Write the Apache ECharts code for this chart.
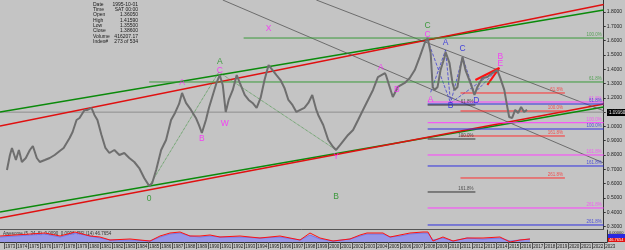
<!DOCTYPE html>
<html>
<head>
<meta charset="utf-8">
<script src="https://cdn.jsdelivr.net/npm/echarts@6/dist/echarts.min.js"></script>
<style>
html, body { margin: 0; padding: 0; background: #c4c4c4; }
#chart { width: 625px; height: 250px; }
</style>
</head>
<body>
<div id="chart"></div>
<script>
// monthly EURUSD-ish closes
const years = [1973.25, 1973.5, 1973.67, 1974.0, 1974.25, 1974.5, 1974.83, 1975.17, 1975.42, 1975.75,
  1976.0, 1976.42, 1976.83, 1977.25, 1977.67, 1978.0, 1978.5, 1978.75, 1979.08, 1979.33,
  1979.75, 1980.0, 1980.33, 1980.58, 1980.83, 1981.17, 1981.5, 1981.83, 1982.25, 1982.67,
  1983.08, 1983.5, 1983.92, 1984.33, 1984.75, 1985.17, 1985.42, 1985.75, 1986.17, 1986.58,
  1987.0, 1987.33, 1987.67, 1987.92, 1988.25, 1988.67, 1989.08, 1989.33, 1989.58, 1989.92,
  1990.17, 1990.5, 1990.83, 1991.08, 1991.33, 1991.58, 1991.83, 1992.17, 1992.5, 1992.83,
  1993.17, 1993.5, 1993.83, 1994.17, 1994.5, 1994.83, 1995.17, 1995.5, 1995.83, 1996.17,
  1996.5, 1996.83, 1997.17, 1997.5, 1997.83, 1998.17, 1998.5, 1998.83, 1999.17, 1999.33,
  1999.75, 2000.17, 2000.58, 2000.83, 2001.17, 2001.5, 2001.83, 2002.25, 2002.67, 2003.08,
  2003.5, 2003.92, 2004.33, 2004.92, 2005.0, 2005.58, 2006.0, 2006.58, 2007.0, 2007.42,
  2007.83, 2008.25, 2008.5, 2008.75, 2008.92, 2009.08, 2009.33, 2009.58, 2009.92, 2010.0,
  2010.33, 2010.58, 2010.75, 2011.0, 2011.25, 2011.42, 2011.67, 2012.08, 2012.42, 2012.67,
  2013.08, 2013.5, 2013.92, 2014.33, 2014.58, 2014.92, 2015.17, 2015.33, 2015.58, 2015.83,
  2016.08, 2016.33, 2016.58, 2016.83];
const closes = [0.695, 0.800, 0.849, 0.765, 0.835, 0.751, 0.779, 0.835, 0.863, 0.779,
  0.751, 0.765, 0.779, 0.800, 0.828, 0.849, 0.919, 0.961, 1.045, 1.059,
  1.115, 1.115, 1.129, 1.080, 1.045, 0.940, 0.849, 0.814, 0.835, 0.800,
  0.814, 0.779, 0.751, 0.709, 0.639, 0.583, 0.604, 0.695, 0.835, 0.905,
  1.045, 1.094, 1.157, 1.234, 1.164, 1.115, 1.059, 1.010, 0.954, 1.045,
  1.129, 1.220, 1.310, 1.359, 1.290, 1.101, 1.185, 1.255, 1.359, 1.290,
  1.220, 1.185, 1.164, 1.129, 1.199, 1.324, 1.429, 1.394, 1.359, 1.324,
  1.269, 1.185, 1.150, 1.101, 1.115, 1.129, 1.164, 1.220, 1.115, 1.080,
  1.010, 0.905, 0.856, 0.835, 0.870, 0.905, 0.940, 0.975, 1.045, 1.115,
  1.185, 1.255, 1.345, 1.373, 1.359, 1.206, 1.276, 1.304, 1.339, 1.394,
  1.485, 1.583, 1.618, 1.513, 1.276, 1.255, 1.276, 1.394, 1.485, 1.520,
  1.443, 1.304, 1.255, 1.276, 1.415, 1.485, 1.394, 1.304, 1.220, 1.276,
  1.339, 1.345, 1.373, 1.394, 1.339, 1.255, 1.136, 1.066, 1.059, 1.115,
  1.094, 1.136, 1.101, 1.115];

// oscillator panel (red line + blue histogram)
const oscYears = [1972.67, 1973.92, 1975.17, 1976.42, 1977.67, 1978.92, 1980.17, 1981.0, 1981.83, 1983.5,
  1985.17, 1986.0, 1986.83, 1987.67, 1988.5, 1989.33, 1990.17, 1991.0, 1992.67, 1994.33,
  1996.0, 1997.67, 1998.5, 1999.33, 2000.42, 2001.83, 2002.67, 2003.25, 2003.75, 2004.58,
  2005.17, 2006.0, 2006.83, 2007.92, 2008.33, 2008.75, 2009.58, 2010.42, 2011.58, 2012.92,
  2014.33, 2015.17, 2016.0, 2016.83];
const oscRed = [6, 7, 8, 9, 6, 10, 6, 5, 2, 3,
  1, 6, 9, 10, 6, 6, 7, 5, 6, 4,
  6, 2, 9, 4, 1, 3, 7, 9, 9, 9,
  5, 7, 9, 10, 10, 1, 5, 1, 4, 4,
  5, 0, 2, 3];
const oscBlue = [5, 6, 7, 8, 5, 9, 6, 4, 2, 2,
  1, 5, 8, 9, 6, 5, 6, 5, 5, 4,
  5, 2, 7, 3, 1, 3, 6, 8, 8, 8,
  5, 6, 8, 9, 9, 2, 4, 1, 4, 3,
  4, 1, 2, 3];

// channels
const upperGreen = [[1972.667, 1.1007], [2023.25, 1.814]];
const upperRed = [[1972.667, 1.0028], [2023.25, 1.8517]];
const lowerGreen = [[1972.667, 0.4014], [2023.25, 1.1356]];
const lowerRed = [[1972.667, 0.3594], [2023.25, 1.1566]];
const darkDiag1 = [[1999.17, 1.8839], [2023.25, 1.109]];
const darkDiag2 = [[1991.33, 1.8839], [2023.25, 0.744]];
const greenDotted = [[1985.17, 0.583], [1991.0, 1.380], [2000.83, 0.835]];
const blueDashed = [[2008.75, 1.2385], [2010.0, 1.5343], [2010.42, 1.1636], [2011.42, 1.485], [2012.42, 1.2335], [2014.5, 1.4084]];
const blueDashed2 = [[2008.5, 1.604], [2010.42, 1.1636], [2014.5, 1.4084]];
const redWedge = [[2012.5, 1.3245], [2014.5, 1.4084], [2013.5, 1.290]];
const priceLine = 1.0996;

// fib levels
const greenLevels = [1.618, 1.3105];
const greenStart = [1993.08, 1985.17];
const greenLabels = ['100.0%', '61.8%'];
const magentaLevels = [1.1706, 1.0258, 0.800, 0.4294];
const blueLevels = [1.1566, 0.9818, 0.7231, 0.3105];
const redLevels = [1.2336, 1.1077, 0.9329, 0.6392];
const darkLevels = [1.1496, 0.9119, 0.5413];
const fibLabels = ['61.8%', '100.0%', '161.8%', '261.8%'];

// wave labels
const magentaMarks = [['A', 1987.92, 1.3035], ['B', 1989.58, 0.912], ['C', 1991.08, 1.3874], ['W', 1991.5, 1.0168],
  ['X', 1995.17, 1.6811], ['Y', 2000.83, 0.786], ['A', 2004.58, 1.4084], ['B', 2005.92, 1.2545],
  ['C', 2008.5, 1.639], ['B', 2014.58, 1.4853], ['E', 2014.58, 1.4364], ['A', 2008.75, 1.1846]];
const greenMarks = [['0', 1985.17, 0.4923], ['A', 1991.08, 1.4503], ['B', 2000.83, 0.506], ['C', 2008.5, 1.702]];
const blueMarks = [['A', 2010.0, 1.583], ['C', 2011.42, 1.541], ['B', 2010.42, 1.1426], ['D', 2012.58, 1.1776]];

const yTicks = [0.3, 0.4, 0.5, 0.6, 0.7, 0.8, 0.9, 1.0, 1.1, 1.2, 1.3, 1.4, 1.5, 1.6, 1.7, 1.8];
const yearTicks = [];
for (let y = 1973; y <= 2023; y++) yearTicks.push(y);

const X0 = 1972.667, X1 = 2023.25;
const series = [];

function seg (points, color, width, type, z) {
  series.push({
    type: 'line', xAxisIndex: 0, yAxisIndex: 0, data: points, symbol: 'none', silent: true,
    lineStyle: { color: color, width: width, type: type || 'solid' }, z: z || 3
  });
}

function levels (vals, start, end, labels, color, z) {
  let labelData = []
  for (let i = 0; i < vals.length; i++) {
    let s = Array.isArray(start) ? start[i] : start
    seg([[s, vals[i]], [end, vals[i]]], color, 1, 'solid', z)
    labelData.push({ value: [end, vals[i]], name: labels[i] })
  }
  series.push({
    type: 'scatter', xAxisIndex: 0, yAxisIndex: 0, data: labelData, symbolSize: 0, silent: true, z: 6,
    label: { show: true, formatter: '{b}', position: 'left', distance: 2, offset: [0, -3],
      color: color, fontSize: 4.5, fontFamily: 'Liberation Sans' }
  })
}

function marks (list, color) {
  series.push({
    type: 'scatter', xAxisIndex: 0, yAxisIndex: 0, symbolSize: 0, silent: true, z: 7,
    data: list.map(m => ({ name: m[0], value: [m[1], m[2]] })),
    label: { show: true, formatter: '{b}', position: 'inside', color: color, fontSize: 8.5, fontFamily: 'Liberation Sans' }
  })
}

// price
series.push({
  type: 'line', xAxisIndex: 0, yAxisIndex: 0, data: years.map((y, i) => [y, closes[i]]),
  symbol: 'none', silent: true, z: 4, lineStyle: { color: '#6e6e6e', width: 2 }
})

seg([[X0, priceLine], [X1, priceLine]], '#8e8e8e', 1)
seg(upperGreen, '#0a8a0a', 1.5)
seg(upperRed, '#e01010', 1.5)
seg(lowerGreen, '#0a8a0a', 1.5)
seg(lowerRed, '#e01010', 1.5)
seg(darkDiag1, '#555555', 0.8)
seg(darkDiag2, '#555555', 0.8)
seg(greenDotted, '#2e8b2e', 0.8, 'dotted')
seg(blueDashed, '#4040d0', 0.8, 'dashed')
seg(blueDashed2, '#4040d0', 0.8, 'dashed')
seg(redWedge, '#ff1010', 2)

levels(greenLevels, greenStart, X1, greenLabels, '#3a9a3a')
levels(magentaLevels, 2008.5, X1, fibLabels, '#ff40ff')
levels(blueLevels, 2008.5, X1, fibLabels, '#3030e0')
levels(redLevels, 2011.25, 2020.0, fibLabels, '#ff3030')
levels(darkLevels, 2008.5, 2012.5, fibLabels, '#333333')

marks(magentaMarks, '#ff20ff')
marks(greenMarks, '#1a8f1a')
marks(blueMarks, '#2020e0')

// oscillator
series.push({
  type: 'line', xAxisIndex: 1, yAxisIndex: 1, data: oscYears.map((y, i) => [y, oscBlue[i]]),
  symbol: 'none', silent: true, lineStyle: { color: '#6a6ae8', width: 0.8 },
  areaStyle: { color: '#8c8cf0', opacity: 0.8 }
})
series.push({
  type: 'line', xAxisIndex: 1, yAxisIndex: 1, data: oscYears.map((y, i) => [y, oscRed[i]]),
  symbol: 'none', silent: true, lineStyle: { color: '#ff1010', width: 1 }
})

const txt = (x, y, t, opt) => Object.assign({ type: 'text', x: x, y: y, style: Object.assign({ text: t, fontSize: 5, fill: '#1a1a1a', fontFamily: 'Liberation Sans' }, opt || {}) })
const info = [['Date', '1995-10-01'], ['Time', 'SAT 00:00'], ['Open', '1.36050'], ['High', '1.41590'],
  ['Low', '1.35500'], ['Close', '1.38600'], ['Volume', '416207.17'], ['Index#', '273 of 534']]
const graphics = []
info.forEach((r, i) => {
  graphics.push(txt(93, 2 + i * 5.3, r[0]))
  graphics.push(txt(138, 2 + i * 5.3, r[1], { align: 'right' }))
})
graphics.push({ type: 'rect', shape: { x: 607, y: 109, width: 18, height: 7 }, style: { fill: '#000' } })
graphics.push(txt(609, 110.5, '1.09960', { fill: '#fff', fontSize: 4.5 }))
graphics.push({ type: 'rect', shape: { x: 607, y: 234, width: 18, height: 4 }, style: { fill: '#2828e0' } })
graphics.push({ type: 'rect', shape: { x: 607, y: 238, width: 18, height: 4 }, style: { fill: '#e01010' } })
graphics.push(txt(609, 238, '46.7654', { fill: '#fff', fontSize: 4 }))
graphics.push(txt(609, 231, '0.00000', { fontSize: 4 }))
graphics.push(txt(3, 231, 'Awesome (5, 34, 5)  0.0090  0.0096  RSI (14) 46.7654', { fontSize: 4.5, fill: '#333' }))

const chart = echarts.init(document.getElementById('chart'), null, { renderer: 'canvas' })
chart.setOption({
  backgroundColor: '#c4c4c4',
  animation: false,
  grid: [
    { left: 0, right: 18, top: 0, height: 229 },
    { left: 0, right: 18, top: 230, height: 12 }
  ],
  xAxis: [
    { gridIndex: 0, type: 'value', min: X0, max: X1, axisLabel: { show: false }, axisTick: { show: false },
      splitLine: { show: false }, axisLine: { show: true, lineStyle: { color: '#555', width: 1 } } },
    { gridIndex: 1, type: 'value', min: X0, max: X1, splitLine: { show: false },
      axisLine: { show: true, lineStyle: { color: '#333', width: 1 } },
      axisTick: { show: true, customValues: yearTicks, length: 7, inside: false, lineStyle: { color: '#555' } },
      axisLabel: { customValues: yearTicks, fontSize: 4.5, color: '#222', margin: 2, align: 'left',
        fontFamily: 'Liberation Sans', formatter: v => ' ' + Math.round(v) } }
  ],
  yAxis: [
    { gridIndex: 0, type: 'value', min: 0.2825, max: 1.8839, position: 'right', splitLine: { show: false },
      axisLine: { show: true, lineStyle: { color: '#333', width: 1 } },
      axisTick: { show: true, customValues: yTicks, length: 2, lineStyle: { color: '#333' } },
      axisLabel: { customValues: yTicks, fontSize: 5, color: '#222', margin: 3, fontFamily: 'Liberation Sans',
        formatter: v => v.toFixed(4) } },
    { gridIndex: 1, type: 'value', min: 0, max: 12, position: 'right', splitLine: { show: false },
      axisLabel: { show: false }, axisTick: { show: false },
      axisLine: { show: true, lineStyle: { color: '#333', width: 1 } } }
  ],
  series: series,
  graphic: graphics
})
</script>
</body>
</html>
